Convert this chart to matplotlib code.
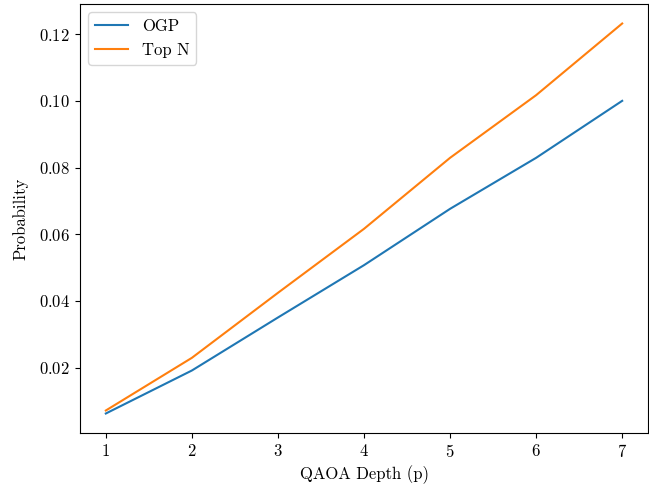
import matplotlib
matplotlib.use('Agg')
import matplotlib.pyplot as plt

plt.rcParams['font.family'] = 'cmr10'
plt.rcParams['axes.formatter.use_mathtext'] = True
plt.rcParams['font.size'] = 12

depths = [1, 2, 3, 4, 5, 6, 7]
ogp = [0.0062, 0.0191, 0.0350, 0.0507, 0.0676, 0.0829, 0.1000]
top_n = [0.0071, 0.0229, 0.0424, 0.0616, 0.0829, 0.1017, 0.1232]

fig = plt.figure(figsize=(6.49, 4.87), dpi=100)
ax = fig.add_axes([80 / 649, 1 - 433 / 487, 568 / 649, 429 / 487])

ax.plot(depths, ogp, label='OGP')
ax.plot(depths, top_n, label='Top N')

ax.set_xlabel('QAOA Depth (p)')
ax.set_ylabel('Probability', labelpad=8)
ax.legend(loc='upper left')

fig.savefig('out.png', dpi=100)
